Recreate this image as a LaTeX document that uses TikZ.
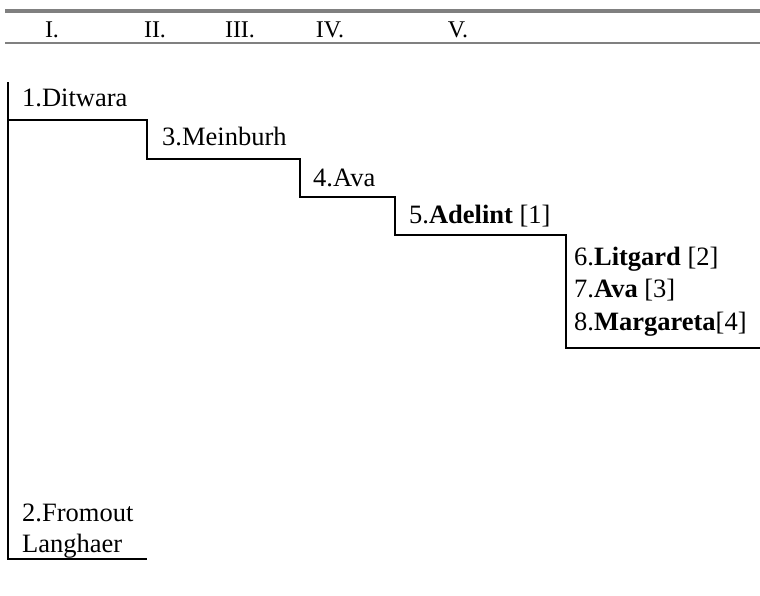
\documentclass[tikz,border=0pt]{standalone}
\usepackage{fontspec}
\setmainfont{Liberation Serif}
\usetikzlibrary{positioning}
\tikzset{
person/.style={anchor=base west, inner sep=0pt, font=\fontsize{26.5}{32}\selectfont}, % one entry of the family tree
gen/.style={anchor=base, inner sep=0pt, font=\fontsize{24}{30}\selectfont}, % generation heading
stair/.style={line width=2pt, line join=miter}, % the black branch lines
headrule/.style={draw=gray, line width=2.5pt}, % grey rules of the heading
}

\begin{document}
\begin{tikzpicture}[x=1pt, y=-1pt]
\useasboundingbox (0,0) rectangle (760,595);

% heading
\coordinate (hl) at (5,11);
\coordinate (hr) at (760,11);
\coordinate (bl) at (5,43);
\coordinate (br) at (760,43);
\draw[headrule, line width=3.5pt] (hl) -- (hr);
\draw[headrule] (bl) -- (br);

\node[gen] (g1) at (52,37) {I.};
\node[gen] (g2) at (155,37) {II.};
\node[gen] (g3) at (240,37) {III.};
\node[gen] (g4) at (330,37) {IV.};
\node[gen] (g5) at (458,37) {V.};

% persons
\node[person] (ditwara) at (22,106) {1.Ditwara};
\node[person] (meinburh) at (162,145) {3.Meinburh};
\node[person] (ava) at (313,186) {4.Ava};
\node[person] (adelint) at (409,223) {5.\textbf{Adelint} [1]};
\node[person] (litgard) at (574,265) {6.\textbf{Litgard} [2]};
\node[person] (ava2) at (574,297) {7.\textbf{Ava} [3]};
\node[person] (margareta) at (574,330) {8.\textbf{Margareta}[4]};
\node[person] (fromout) at (22,521) {2.Fromout};
\node[person] (langhaer) at (22,552) {Langhaer};

% branch lines
\coordinate (root) at (8,82);
\coordinate (foot) at (8,559);
\coordinate (footend) at (147,559);
\coordinate (s1) at (8,120);
\coordinate (s2) at (147,159);
\coordinate (s3) at (300,197);
\coordinate (s4) at (395,235);
\coordinate (s5) at (566,348);
\coordinate (s6) at (760,348);

\draw[stair] (root) -- (foot) -- (footend);
\draw[stair] (s1) -| (s2) -| (s3) -| (s4) -| (s5) -- (s6);
\end{tikzpicture}
\end{document}
